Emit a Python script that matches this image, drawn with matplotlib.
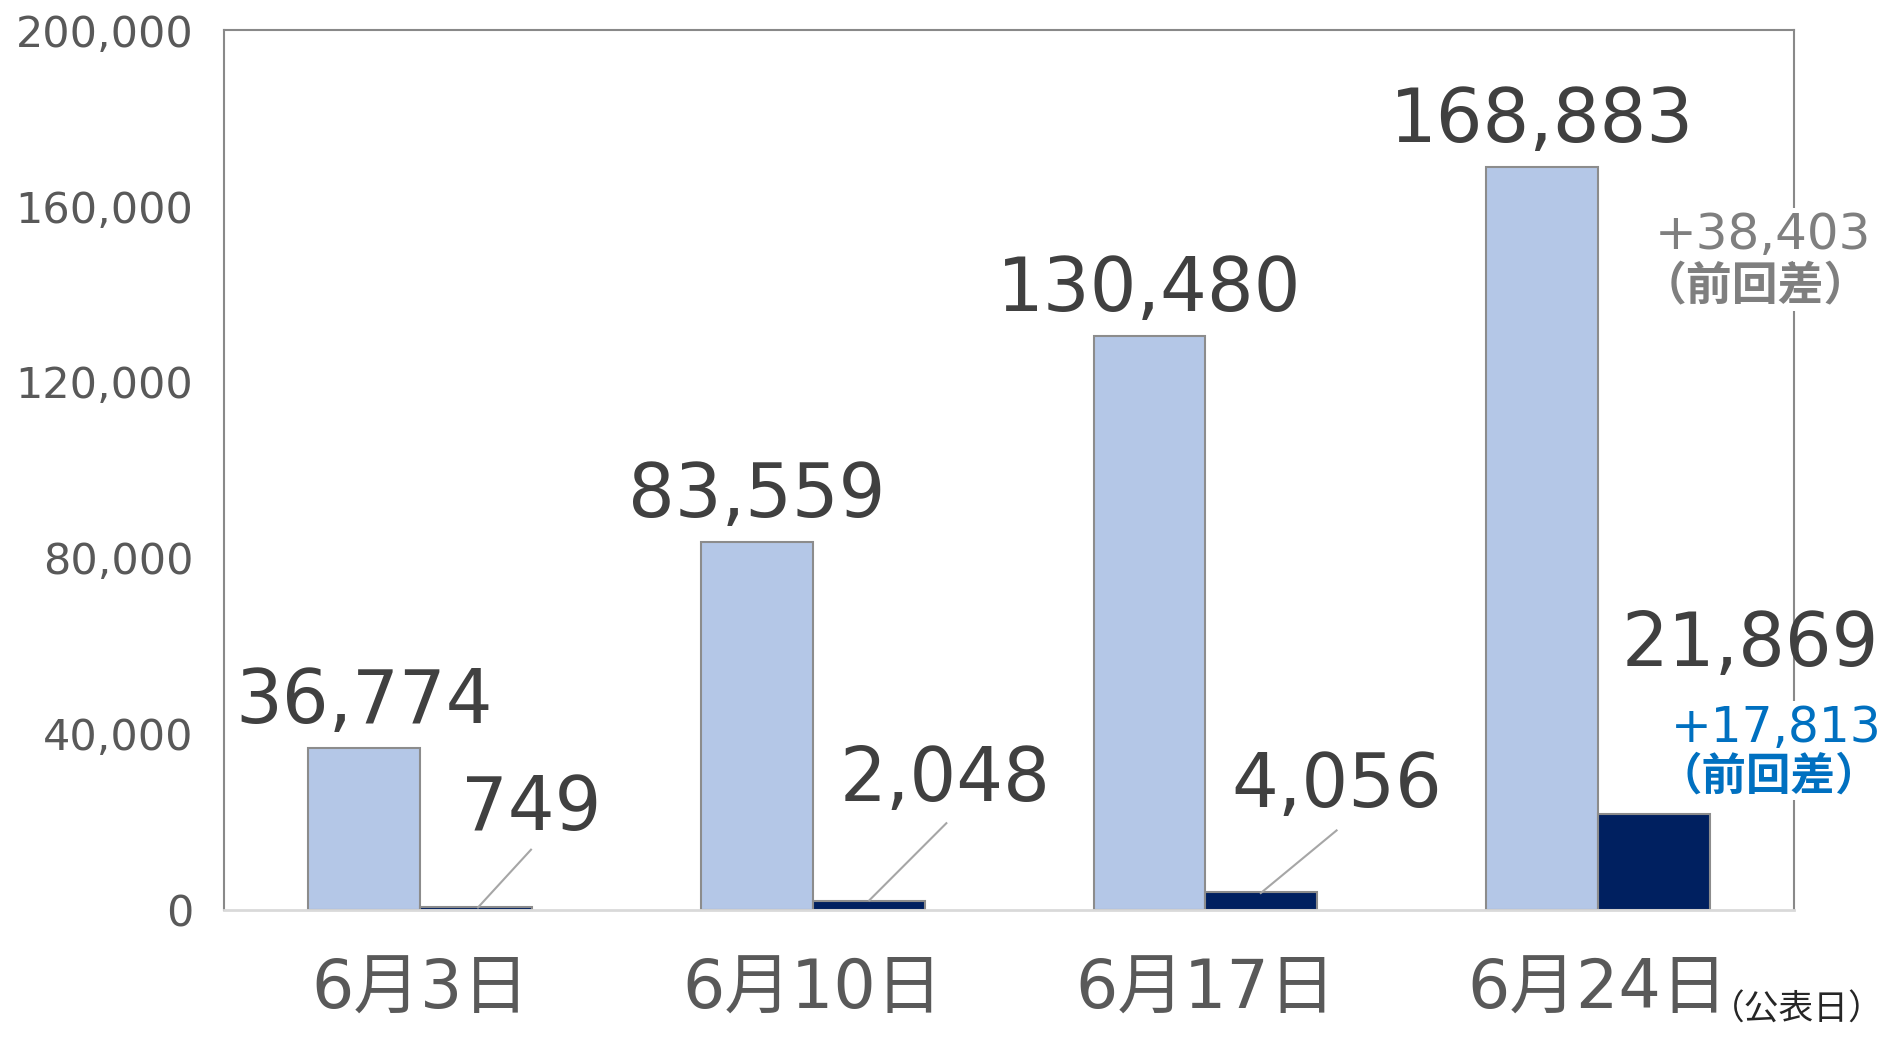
import matplotlib
matplotlib.use("Agg")
import matplotlib.pyplot as plt
import numpy as np

plt.rcParams['font.family'] = ['DejaVu Sans', 'Noto Sans CJK JP']

categories = ["6月3日", "6月10日", "6月17日", "6月24日"]
total_values = [36774, 83559, 130480, 168883]
dark_values = [749, 2048, 4056, 21869]
yticks = [0, 40000, 80000, 120000, 160000, 200000]
diff_total = "+38,403"
diff_dark = "+17,813"
diff_note = "（前回差）"
unit_note = "（公表日）"

fig = plt.figure(figsize=(18.87, 10.37), dpi=100)
ax = fig.add_axes([0.1187, 0.1226, 0.8322, 0.8484])

x = np.arange(len(categories))
w = 0.285
light = "#B4C7E7"
dark = "#002060"
edge = "#8C8C8C"
ax.bar(x - w/2, total_values, w, color=light, edgecolor=edge, linewidth=1.5, zorder=2)
ax.bar(x + w/2, dark_values, w, color=dark, edgecolor=edge, linewidth=1.5, zorder=2)

ax.set_xlim(-0.5, 3.5)
ax.set_ylim(0, 200000)
ax.set_yticks(yticks)
ax.set_yticklabels([f"{v:,}" for v in yticks], fontsize=31, color="#595959")
ax.set_xticks(x)
ax.set_xticklabels(categories, fontsize=48, color="#595959")
ax.tick_params(axis='y', length=0, pad=22)
ax.tick_params(axis='x', length=0, pad=34)

for s in ["left", "right", "top"]:
    ax.spines[s].set_color("#898989")
    ax.spines[s].set_linewidth(1.5)
ax.spines["bottom"].set_color("#D9D9D9")
ax.spines["bottom"].set_linewidth(2)

lab_col = "#404040"
# total labels above light bars
for xi, v in zip(x, total_values):
    ax.annotate(f"{v:,}", (xi - w/2, v), xytext=(0, 18), textcoords="offset points",
                ha="center", va="baseline", fontsize=53, color=lab_col, zorder=6)

# dark labels with leader lines
dark_label_pos = [(0.282, 22800), (1.337, 29300), (2.334, 28000), (3.387, 60000)]
leader_start = [(0.147, 547), (1.144, 2190), (2.141, 3830), None]
leader_end = [(0.282, 13680), (1.340, 19700), (2.334, 18060), None]
for v, (lx, ly), s, e in zip(dark_values, dark_label_pos, leader_start, leader_end):
    ax.text(lx, ly, f"{v:,}", ha="center", va="center", fontsize=53, color=lab_col,
            zorder=6, clip_on=False)
    if s is not None:
        ax.plot([s[0], e[0]], [s[1], e[1]], color="#A6A6A6", lw=1.5, zorder=5)

# difference annotations
ax.text(3.42, 153400, diff_total, ha="center", va="center", fontsize=36,
        color="#7F7F7F", zorder=6, clip_on=False,
        bbox=dict(facecolor="white", edgecolor="none", pad=2))
ax.text(3.40, 141500, diff_note, ha="center", va="center", fontsize=33,
        color="#7F7F7F", zorder=6, clip_on=False, fontweight="bold",
        bbox=dict(facecolor="white", edgecolor="none", pad=1))
ax.text(3.455, 41300, diff_dark, ha="center", va="center", fontsize=35,
        color="#0070C0", zorder=6, clip_on=False,
        bbox=dict(facecolor="white", edgecolor="none", pad=2))
ax.text(3.435, 30200, diff_note, ha="center", va="center", fontsize=32,
        color="#0070C0", zorder=6, clip_on=False, fontweight="bold",
        bbox=dict(facecolor="white", edgecolor="none", pad=1))

fig.text(0.952, 0.026, unit_note, ha="center", va="center", fontsize=25, color="#262626")

fig.savefig("out.png", dpi=100)
